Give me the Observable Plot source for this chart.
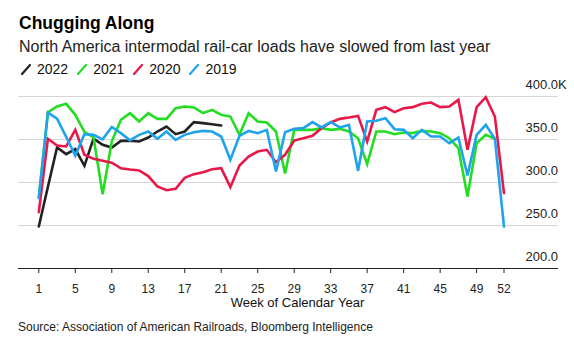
<!DOCTYPE html>
<html><head><meta charset="utf-8">
<script src="https://cdn.jsdelivr.net/npm/d3@7"></script>
<script src="https://cdn.jsdelivr.net/npm/@observablehq/plot@0.6"></script>
<style>
body{margin:0;background:#fff;font-family:"Liberation Sans",Arial,sans-serif;color:#000;}
#wrap{position:relative;width:574px;height:345px;overflow:hidden}
#title{position:absolute;left:19px;top:11px;font-size:17.5px;font-weight:bold;line-height:24px}
#sub{position:absolute;left:19px;top:36px;font-size:16px;line-height:22px;color:#222}
#legend{position:absolute;left:21px;top:60px;font-size:14px;line-height:18px;display:flex;align-items:center;color:#111}
#legend .item{display:flex;align-items:center;margin-right:9px}
#legend svg{margin-right:6px}
#chart{position:absolute;left:0;top:76px}
#source{position:absolute;left:18px;top:319px;font-size:12px;line-height:16px;color:#222}
</style>
</head><body>
<div id="wrap">
<div id="title">Chugging Along</div>
<div id="sub">North America intermodal rail-car loads have slowed from last year</div>
<div id="legend"></div>
<div id="chart"></div>
<div id="source">Source: Association of American Railroads, Bloomberg Intelligence</div>
</div>
<script>
const seriesNames = ["2022", "2021", "2020", "2019"];
const seriesColors = ["#222222", "#22dd22", "#e8174a", "#1fa3ec"];
const v2022 = [248.8, 295, 340.7, 333, 338.8, 319.4, 351, 343.8, 340.7, 348.4, 348.5, 347.7, 352.3, 359.3, 365.1, 356.2, 359.3, 370.2, 369, 367.8, 366.3];
const v2021 = [283, 381.8, 388.4, 391.5, 378.7, 359, 352.3, 286.4, 347.7, 372.9, 380.6, 370.9, 380.6, 374, 374, 386.4, 388.4, 387.2, 380.6, 384.5, 378.7, 376.7, 355.4, 380.6, 370.9, 369.8, 359.3, 310.5, 361.2, 361.2, 361.2, 363.2, 361.2, 362.4, 359.3, 351.5, 321.3, 359.3, 359.3, 356.2, 358.1, 357.4, 360, 359.3, 357.4, 351.5, 339.9, 283.7, 345.7, 355.4, 350.8];
const v2020 = [265.5, 350.8, 343, 341.9, 361.2, 332.2, 327.5, 325.2, 323, 316.5, 315.1, 314, 307.5, 295.5, 291, 292.6, 305.5, 309.7, 312, 315.5, 316.7, 294.6, 319.8, 330.2, 336, 338, 323.6, 332.2, 348.8, 351.5, 354.3, 363.2, 369.8, 374, 375.6, 377.5, 347.7, 384.5, 387.6, 381.8, 386.4, 387.6, 391.5, 393, 387.6, 388.4, 396.1, 338, 387.6, 399.2, 376.7, 287.6];
const v2019 = [281.8, 381.3, 374.3, 353, 331.2, 356.2, 355.4, 350.2, 364.5, 357.4, 349, 355.4, 359.3, 350.8, 359.3, 349.6, 355.4, 358.5, 360, 359.3, 353.5, 326.4, 354.3, 360, 357.4, 361.2, 312.8, 358.5, 362.4, 363.2, 370.2, 364, 370.2, 364, 367, 313.6, 370.9, 371.7, 374.8, 362, 361.2, 351.5, 361.2, 353.5, 353.5, 345.7, 352.3, 308.1, 355.4, 367, 350.8, 248.8];
const xTicks = [1, 5, 9, 13, 17, 21, 25, 29, 33, 37, 41, 45, 49, 52];
const yTicks = [200, 250, 300, 350, 400];
const yTickLabels = ["200.0", "250.0", "300.0", "350.0", "400.0K"];
const xLabel = "Week of Calendar Year";

const allValues = [v2022, v2021, v2020, v2019];
const rows = [];
allValues.forEach((arr, si) => arr.forEach((v, i) => rows.push({week: i + 1, value: v, series: seriesNames[si]})));

// legend
const leg = document.getElementById("legend");
seriesNames.forEach((n, i) => {
  const it = document.createElement("span");
  it.className = "item";
  it.innerHTML = `<svg width="10" height="11"><line x1="1" y1="10" x2="9" y2="1" stroke="${seriesColors[i]}" stroke-width="2.2" stroke-linecap="round"/></svg><span>${n}</span>`;
  leg.appendChild(it);
});

const chart = Plot.plot({
  width: 574,
  height: 240,
  marginTop: 20,
  marginBottom: 48,
  marginLeft: 18,
  marginRight: 16,
  style: {fontFamily: "'Liberation Sans', Arial, sans-serif", background: "#fff"},
  x: {type: "linear", domain: [1, 52], range: [38.3, 503.5]},
  y: {domain: [200, 400], axis: null},
  color: {domain: seriesNames, range: seriesColors},
  marks: [
    Plot.ruleY(yTicks.filter(d => d > 200), {stroke: "#d6d6d6", strokeWidth: 1}),
    Plot.ruleY([200], {stroke: "#222", strokeWidth: 1}),
    Plot.axisX(xTicks, {tickSize: 5, tickPadding: 11, fontSize: 12, fill: "#222", stroke: "#222", label: null}),
    Plot.text(yTicks, {y: d => d, text: (d, i) => yTickLabels[i], frameAnchor: "right", textAnchor: "start", dx: -33, dy: -12, fontSize: 13, fill: "#222"}),
    Plot.text([xLabel], {text: d => d, frameAnchor: "bottom", dx: 9, dy: 38, fontSize: 13, fill: "#111"}),
    Plot.line(rows, {x: "week", y: "value", z: "series", stroke: "series", strokeWidth: 2.6, strokeLinejoin: "miter", strokeMiterlimit: 4})
  ]
});
document.getElementById("chart").appendChild(chart);
</script>
</body></html>
